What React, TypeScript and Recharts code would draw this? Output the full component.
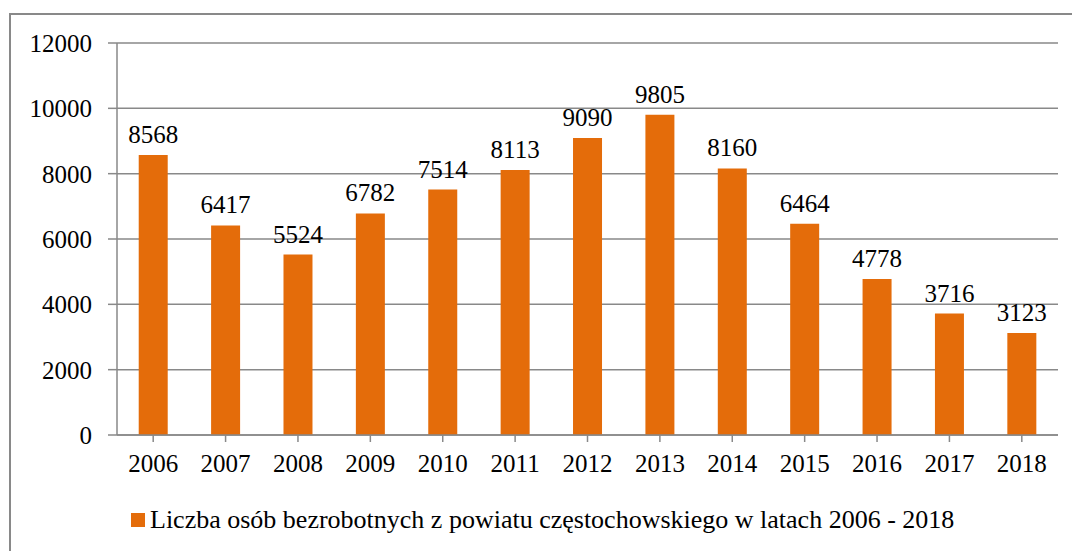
import React from "react";
import { BarChart, Bar, XAxis, YAxis, CartesianGrid, LabelList } from "recharts";

const years = ["2006","2007","2008","2009","2010","2011","2012","2013","2014","2015","2016","2017","2018"];
const values = [8568, 6417, 5524, 6782, 7514, 8113, 9090, 9805, 8160, 6464, 4778, 3716, 3123];
const yTicks = [0, 2000, 4000, 6000, 8000, 10000, 12000];
const seriesName = "Liczba osób bezrobotnych z powiatu częstochowskiego w latach 2006 - 2018";

const data = years.map((y, i) => ({ year: y, value: values[i] }));

const FONT = "'Liberation Serif', 'Tinos', 'Times New Roman', 'DejaVu Serif', serif";
const GRAY = "#898989";
const ORANGE = "#E46C0A";

export default function App() {
  return (
    <div style={{ position: "absolute", left: 0, top: 0, width: 1072, height: 551, background: "#fff", overflow: "hidden", fontFamily: FONT }}>
      <div style={{ position: "absolute", left: 9, top: 13, width: 1100, height: 600, border: `2px solid ${GRAY}`, boxSizing: "border-box" }} />
      <BarChart
        width={1072}
        height={551}
        data={data}
        margin={{ top: 43, right: 14, left: 0, bottom: 0 }}
        barCategoryGap="30%"
        style={{ position: "absolute", left: 0, top: 0 }}
      >
        <CartesianGrid vertical={false} stroke={GRAY} strokeWidth={1.5} />
        <XAxis
          dataKey="year"
          height={116}
          stroke={GRAY}
          strokeWidth={1.5}
          tickSize={7}
          tickMargin={12}
          tick={{ fill: "#000", fontSize: 25, fontFamily: FONT }}
          interval={0}
        />
        <YAxis
          width={117}
          domain={[0, 12000]}
          ticks={yTicks}
          stroke={GRAY}
          strokeWidth={1.5}
          tickSize={9}
          tickMargin={16}
          tick={{ fill: "#000", fontSize: 25, fontFamily: FONT }}
          interval={0}
        />
        <Bar dataKey="value" name={seriesName} fill={ORANGE} isAnimationActive={false}>
          <LabelList dataKey="value" position="top" offset={12} fill="#000" fontSize={25} fontFamily={FONT} />
        </Bar>
      </BarChart>
      <div style={{ position: "absolute", left: 131, top: 505, display: "flex", alignItems: "center", fontSize: 26, color: "#000", whiteSpace: "nowrap", lineHeight: "30px" }}>
        <span style={{ display: "inline-block", width: 14, height: 14, background: ORANGE, marginRight: 5 }} />
        <span>{seriesName}</span>
      </div>
    </div>
  );
}
